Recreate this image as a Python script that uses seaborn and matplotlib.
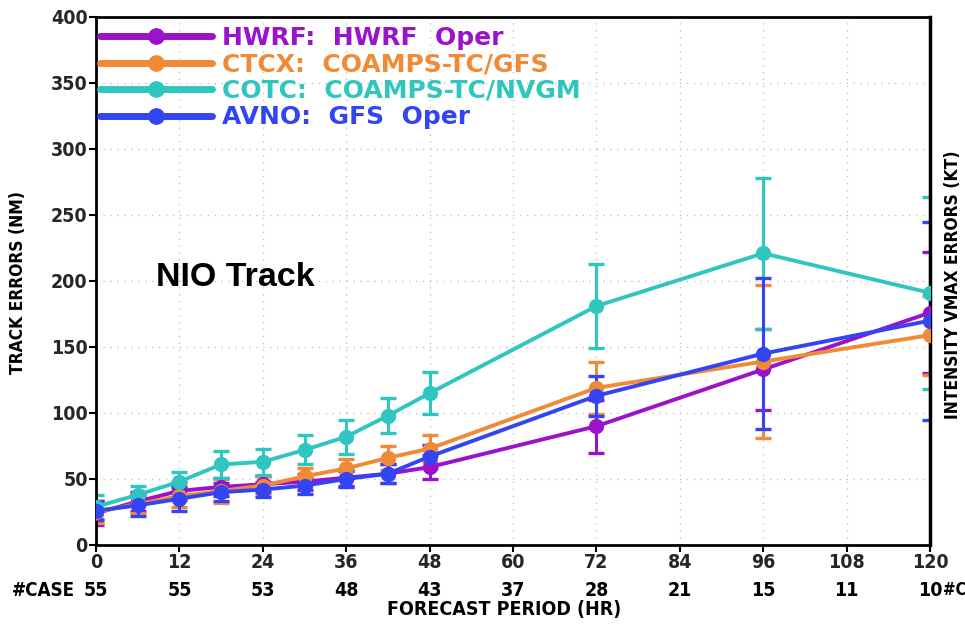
import matplotlib
matplotlib.use("Agg")
import matplotlib.pyplot as plt
import matplotlib.transforms as mtransforms
from matplotlib.lines import Line2D
import seaborn as sns
import pandas as pd
import numpy as np

# ---------------- data ----------------
hours = [0, 6, 12, 18, 24, 30, 36, 42, 48, 72, 96, 120]
models = ["HWRF", "CTCX", "COTC", "AVNO"]
legend_labels = ["HWRF:  HWRF  Oper", "CTCX:  COAMPS-TC/GFS",
                 "COTC:  COAMPS-TC/NVGM", "AVNO:  GFS  Oper"]
hwrf = [24, 33, 41, 44, 46, 48, 51, 54, 59, 90, 133, 176]
hwrf_err = [9, 7, 7, 7, 6, 6, 6, 7, 9, 20, 31, 46]
ctcx = [25, 31, 37, 41, 45, 52, 58, 66, 73, 119, 139, 159]
ctcx_err = [8, 7, 8, 9, 7, 6, 7, 9, 10, 20, 58, 30]
cotc = [29, 38, 48, 61, 63, 72, 82, 98, 115, 181, 221, 191]
cotc_err = [9, 7, 7, 10, 10, 11, 13, 13, 16, 32, 57, 73]
avno = [26, 30, 35, 40, 42, 45, 50, 54, 67, 113, 145, 170]
avno_err = [7, 8, 9, 7, 6, 6, 6, 7, 9, 15, 57, 75]
case_hours = [0, 12, 24, 36, 48, 60, 72, 84, 96, 108, 120]
case_counts = [55, 55, 53, 48, 43, 37, 28, 21, 15, 11, 10]
xticks = [0, 12, 24, 36, 48, 60, 72, 84, 96, 108, 120]
yticks = [0, 50, 100, 150, 200, 250, 300, 350, 400]

colors = {"HWRF": "#9a12c9", "CTCX": "#f08a36", "COTC": "#2ec6bf", "AVNO": "#3344f2"}

values = {"HWRF": hwrf, "CTCX": ctcx, "COTC": cotc, "AVNO": avno}
errors = {"HWRF": hwrf_err, "CTCX": ctcx_err, "COTC": cotc_err, "AVNO": avno_err}

rows = []
for m in models:
    for h, v, e in zip(hours, values[m], errors[m]):
        rows.append({"hour": h, "model": m, "err": v, "sd": e})
df = pd.DataFrame(rows)

# ---------------- figure ----------------
sns.set_theme(style="white")
plt.rcParams["font.family"] = ["DejaVu Sans"]
FS = dict(family="DejaVu Sans", stretch="condensed", weight="bold")

fig = plt.figure(figsize=(9.65, 6.24), dpi=100)
ax = fig.add_axes([96 / 965, 1 - 545 / 624, (930 - 96) / 965, (545 - 17) / 624])

# error bars first (under the lines)
for m in models:
    sub = df[df.model == m]
    ax.errorbar(sub.hour, sub.err, yerr=sub.sd, fmt="none", ecolor=colors[m],
                elinewidth=2.2, capsize=5.5, capthick=2.4, zorder=2)

sns.lineplot(data=df, x="hour", y="err", hue="model", hue_order=models,
             palette=colors, marker="o", markersize=11, markeredgewidth=0,
             linewidth=2.8, ax=ax, legend=False, zorder=3)

ax.set_xlim(0, 120)
ax.set_ylim(0, 400)
ax.set_xticks(xticks)
ax.set_yticks(yticks)
ax.set_xticklabels([str(t) for t in xticks], fontsize=14, **FS)
ax.set_yticklabels([str(t) for t in yticks], fontsize=14, **FS)
ax.tick_params(axis="both", direction="out", length=5, width=1.5, color="black",
               pad=1, left=True, bottom=True)
ax.grid(True, color="#c4c4c4", linestyle=(0, (1, 4)), linewidth=1.0)
for s in ax.spines.values():
    s.set_color("black")
    s.set_linewidth(2.0)
ax.spines["right"].set_linewidth(2.5)

ax.set_xlabel("")
ax.set_ylabel("")

# axis titles
fig.text(18 / 965, 1 - 283 / 624, "TRACK ERRORS (NM)", rotation=90, ha="center",
         va="center", fontsize=12.5, color="black", **FS)
fig.text(953 / 965, 1 - 285 / 624, "INTENSITY VMAX ERRORS (KT)", rotation=90,
         ha="center", va="center", fontsize=12.5, color="black", **FS)
fig.text(504 / 965, 1 - 609 / 624, "FORECAST PERIOD (HR)", ha="center",
         va="center", fontsize=14, color="black", **FS)

# case counts row
trans = mtransforms.blended_transform_factory(ax.transData, fig.transFigure)
case_y = 1 - 590 / 624
for h, c in zip(case_hours, case_counts):
    ax.text(h, case_y, str(c), transform=trans, ha="center", va="center",
            fontsize=14, color="black", clip_on=False, **FS)
fig.text(12 / 965, case_y, "#CASE", ha="left", va="center", fontsize=13.5,
         color="black", **FS)
fig.text(943 / 965, case_y, "#C", ha="left", va="center", fontsize=12,
         color="black", **FS)

# in-plot title
ax.text(156 / 965, 1 - 278 / 624, "NIO Track", transform=fig.transFigure,
        ha="left", va="center", fontsize=24.5, fontweight="bold",
        family="Liberation Sans", color="black")

# legend
handles = [Line2D([0], [0], color=colors[m], lw=5, marker="o", markersize=11)
           for m in models]
leg = ax.legend(handles, legend_labels, loc="upper left", frameon=False,
                handlelength=4.5, handletextpad=0.4, labelspacing=0.1,
                borderaxespad=0.0, borderpad=0.15,
                bbox_to_anchor=(0.0, 1 - 5 / 528),
                prop=dict(family="DejaVu Sans", weight="bold", size=18))
for txt, m in zip(leg.get_texts(), models):
    txt.set_color(colors[m])

fig.savefig("out.png", dpi=100, facecolor="white")
